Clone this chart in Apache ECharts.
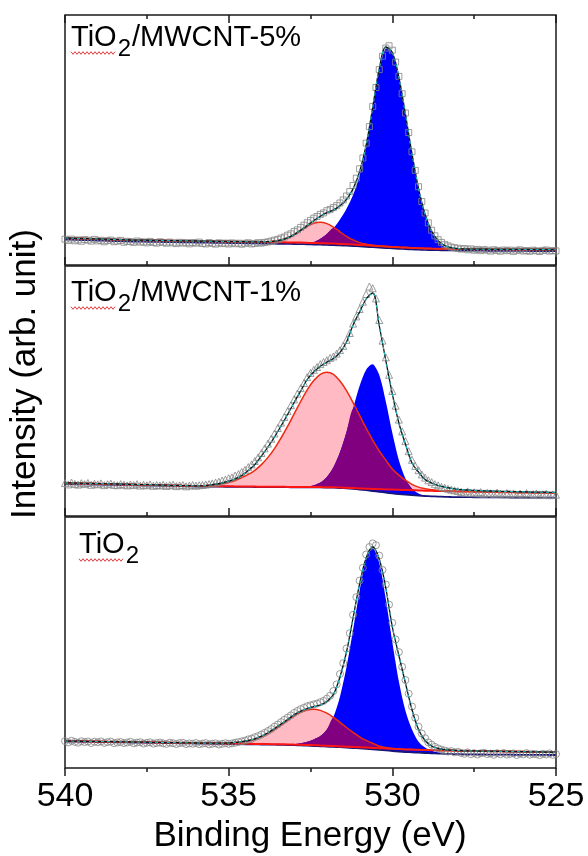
<!DOCTYPE html>
<html>
<head>
<meta charset="utf-8">
<script src="https://cdn.jsdelivr.net/npm/echarts@6/dist/echarts.min.js"></script>
<style>
  html, body { margin: 0; padding: 0; background: #ffffff; }
  #chart { width: 588px; height: 856px; }
</style>
</head>
<body>
<div id="chart"></div>
<script>
// O 1s XPS spectra of TiO2 and TiO2/MWCNT composites with peak deconvolution.
// Intensities are in arbitrary units (each panel has its own scale).

// Binding-energy grids: fitted curves every 0.2 eV, measured scan every 0.1 eV
const fitEnergy = [];
for (let i = 0; i <= 75; i++) fitEnergy.push(+(540 - 0.2 * i).toFixed(1));
const scanEnergy = [];
for (let j = 0; j <= 150; j++) scanEnergy.push(+(540 - 0.1 * j).toFixed(1));

const xTicks = [540, 535, 530, 525];

// ---------- TiO2/MWCNT-5% ----------
const scan5 = [25.8,24.6,25.9,24.2,25.1,23.8,25.4,24.9,23.9,25.6,24.1,24.7,23.2,24.4,24.9,23.3,23.9,24.6,22.8,23.7,
  23.4,22.6,24.0,22.9,23.1,22.2,23.6,22.5,21.9,23.2,22.6,21.8,22.9,22.1,21.4,22.7,21.9,22.3,21.2,22.5,
  21.8,22.9,21.5,21.1,22.4,21.6,20.9,22.2,21.4,21.9,21.0,22.1,21.3,21.8,20.8,21.7,22.2,21.1,21.6,22.3,21.9,
  22.6,23.1,23.9,24.8,25.6,26.9,28.0,29.8,31.2,33.4,35.1,37.6,39.8,42.3,44.6,46.8,48.5,50.6,52.1,54.3,
  55.6,57.4,59.3,62.0,65.1,69.0,73.4,79.5,86.8,96.2,107.0,121.9,138.4,158.6,177.5,195.4,208.8,216.9,219.2,214.8,
  202.9,188.6,171.3,152.0,132.5,113.2,94.6,78.3,63.5,52.0,42.1,34.8,29.2,25.3,22.6,20.4,19.1,17.9,17.2,16.8,
  15.9,16.5,15.2,16.1,14.8,15.6,14.4,15.3,14.9,13.9,15.2,14.6,13.8,15.0,14.3,14.9,13.6,14.7,15.1,14.0,
  14.5,13.7,14.8,14.2,13.5,14.6,15.0,13.9,14.4,14.1];
const fit5 = [27.0,26.8,26.6,26.4,26.2,26.0,25.8,25.6,25.4,25.2,25.0,24.9,24.8,24.7,24.6,24.5,24.4,24.3,24.2,24.1,
  24.0,23.9,23.8,23.7,23.6,23.5,23.4,23.3,23.2,23.1,
  23.2,23.3,23.9,25.0,27.2,30.4,34.7,39.5,44.3,48.8,52.4,54.9,59.2,65.7,76.1,93.4,119.8,157.7,196.0,218.0,
  212.6,187.7,150.9,111.4,76.6,50.7,33.9,24.4,19.5,17.3,16.4,16.0,15.9,
  15.8,15.8,15.7,15.7,15.7,15.6,15.6,15.6,15.5,15.5,15.5,15.5,15.5];
const shirley5 = [25.5,25.3,25.1,24.9,24.7,24.5,24.3,24.1,23.9,23.7,23.5,23.4,23.3,23.2,23.1,23.0,22.9,22.8,22.7,22.6,
  22.5,22.4,22.3,22.2,22.1,22.0,21.9,21.8,21.7,21.6,21.5,21.4,21.3,21.2,21.1,21.0,20.9,20.7,20.5,20.3,
  20.1,19.9,19.6,19.3,19.0,18.6,18.2,17.8,17.4,17.0,16.6,16.2,15.9,15.6,15.3,15.1,14.9,14.8,14.7,14.6,
  14.5,14.4,14.4,14.3,14.3,14.2,14.2,14.2,14.1,14.1,14.1,14.0,14.0,14.0,14.0,14.0];
const linear5 = [27.0,26.8,26.6,26.4,26.2,26.0,25.8,25.6,25.4,25.2,25.0,24.9,24.8,24.7,24.6,24.5,24.4,24.3,24.2,24.1,
  24.0,23.9,23.8,23.7,23.6,23.5,23.4,23.3,23.2,23.1,23.0,22.9,22.8,22.7,22.6,22.5,22.4,22.2,22.0,21.8,
  21.6,21.4,21.1,20.8,20.5,20.1,19.7,19.3,18.9,18.5,18.1,17.7,17.4,17.1,16.8,16.6,16.4,16.3,16.2,16.1,
  16.0,15.9,15.9,15.8,15.8,15.7,15.7,15.7,15.6,15.6,15.6,15.5,15.5,15.5,15.5,15.5];
const ohPeak5 = [0,0,0,0,0,0,0,0,0,0,0,0,0,0,0,0,0,0,0,0,0,0,0,0,0,0,0,0,0,0,
  0.15,0.4,1.1,2.3,4.6,7.9,12.1,16.5,19.8,21,19.8,16.5,12.1,7.9,4.6,2.3,1.1,0.4,0.15,
  0,0,0,0,0,0,0,0,0,0,0,0,0,0,0,0,0,0,0,0,0,0,0,0,0,0,0];
const latticePeak5 = [0,0,0,0,0,0,0,0,0,0,0,0,0,0,0,0,0,0,0,0,0,0,0,0,0,0,0,0,0,0,0,0,0,0,0,0,
  0.2,0.8,2.5,6,11,17,26,37,51,71,99,138,177,199.5,194.5,170,133.5,94.3,59.8,34.1,17.5,8.1,3.3,1.2,0.4,0.1,
  0,0,0,0,0,0,0,0,0,0,0,0,0,0];

// ---------- TiO2/MWCNT-1% ----------
const scan1 = [32.9,31.6,33.4,32.1,31.4,32.8,31.9,33.0,31.2,32.3,31.7,32.6,30.9,31.8,32.4,31.1,30.8,31.9,31.3,30.6,
  31.5,30.9,31.8,30.4,31.2,30.7,31.6,30.2,31.0,30.5,31.3,30.1,30.8,31.4,29.9,30.6,31.0,29.7,30.5,30.9,30.3,
  30.8,31.0,31.5,31.9,32.6,33.4,34.3,35.5,36.4,37.8,38.7,40.5,42.0,44.1,46.2,48.9,51.6,55.0,58.7,63.0,
  67.6,72.4,77.3,82.5,88.0,93.4,99.0,104.9,110.8,116.6,122.4,127.9,133.0,138.9,143.1,146.2,149.0,151.9,154.0,155.8,
  158.1,159.6,162.4,165.9,170.2,176.1,183.0,192.4,199.6,207.0,214.3,222.0,229.5,227.8,217.6,196.0,175.4,158.7,141.2,125.0,
  110.3,96.4,84.6,74.9,64.8,56.2,50.1,45.8,41.6,38.4,35.7,33.9,31.8,30.7,29.1,28.4,27.2,26.3,25.7,24.9,
  24.1,23.3,24.6,22.8,23.7,22.5,23.9,22.1,23.2,22.7,21.9,23.4,22.3,21.6,22.9,21.8,22.6,21.2,22.4,21.5,
  22.8,21.1,21.9,22.5,20.9,21.7,22.2,20.8,21.6,21.3];
const fit1 = [33.2,33.0,32.9,32.7,32.6,32.4,32.3,32.1,32.0,31.8,31.7,31.5,31.4,31.3,31.1,30.9,30.7,30.6,30.4,30.3,30.1,
  30.2,30.8,31.8,33.0,34.8,37.0,40.5,45.5,51.5,60.0,69.0,79.0,90.0,101.5,113.5,125.0,136.5,144.0,149.8,153.8,
  157.5,163.5,174.0,191.0,204.0,217.0,223.0,190.5,155.5,122.0,93.0,72.0,53.0,44.0,36.5,33.0,30.5,28.8,27.7,26.7,
  26.2,25.8,25.5,25.2,25.0,24.8,24.6,24.5,24.3,24.2,24.0,23.9,23.8,23.7,23.6];
const shirley1 = [32.0,31.9,31.7,31.6,31.5,31.4,31.2,31.1,31.0,30.9,30.8,30.6,30.5,30.4,30.3,30.1,30.0,29.9,29.8,29.6,29.5,
  29.4,29.4,29.3,29.3,29.2,29.2,29.1,29.1,29.0,29.0,28.9,28.9,28.8,28.8,28.7,28.7,28.7,28.6,28.6,28.5,
  28.3,28.0,27.6,27.1,26.5,25.8,25.0,24.2,23.4,22.6,
  21.9,21.3,20.8,20.4,20.0,19.7,19.4,19.2,19.0,18.9,
  18.8,18.8,18.7,18.7,18.6,18.6,18.6,18.5,18.5,18.5,18.4,18.4,18.4,18.4,18.4];
const linear1 = [33.0,32.8,32.7,32.5,32.4,32.2,32.1,31.9,31.8,31.6,31.5,31.3,31.2,31.1,30.9,30.8,30.6,30.5,30.3,30.2,30.0,
  29.9,29.9,29.8,29.7,29.7,29.6,29.5,29.5,29.4,29.3,29.3,29.2,29.2,29.1,29.1,29.0,29.0,28.9,28.9,28.8,28.8,
  28.5,28.2,27.9,27.6,27.3,27.0,26.8,26.6,26.4,26.2,26.0,25.8,25.5,25.3,
  25.2,25.0,24.9,24.8,24.6,24.5,24.4,24.3,24.1,24.0,23.9,23.8,23.7,23.6,23.5,23.4,23.3,23.2,23.1,23.0];
const ohPeak1 = [0,0,0,0,0,0,0,0,0,0,0,0,0,0,0,0,0,0,0,0,
  0.2,0.4,0.8,1.5,2.5,3.9,5.9,8.9,12.1,16.3,22.1,29.3,38.2,48.8,60.5,73.0,85.5,97.1,106.5,112.8,
  115,112.8,106.5,97.1,85.5,73.0,60.5,48.8,38.2,29.3,20.6,14.7,9.8,5.9,3.4,2.0,1.0,0.5,0.2,
  0,0,0,0,0,0,0,0,0,0,0,0,0,0,0,0,0];
const latticePeak1 = [0,0,0,0,0,0,0,0,0,0,0,0,0,0,0,0,0,0,0,0,0,0,0,0,0,0,0,0,0,0,0,0,0,0,0,
  0.1,0.3,0.8,2.1,4.9,10.6,20.5,35.8,56.4,80.4,103.5,120.4,126.7,116.7,91.1,60.3,33.9,16.1,6.5,2.2,0.6,0.2,
  0,0,0,0,0,0,0,0,0,0,0,0,0,0,0,0,0,0,0];

// ---------- TiO2 ----------
const scan0 = [26.9,25.6,27.2,26.1,25.3,26.8,25.9,26.5,25.0,26.3,25.7,26.6,25.1,25.9,26.4,24.8,25.6,26.0,24.9,25.5,
  26.2,24.7,25.4,25.8,24.5,25.2,25.7,24.4,25.0,25.5,24.6,24.1,25.3,24.8,24.0,24.9,25.2,23.9,24.6,24.2,
  25.0,23.8,24.4,24.9,23.6,24.3,24.7,23.5,24.2,24.8,24.1,
  24.6,25.2,25.9,26.6,27.4,28.6,29.3,30.8,31.9,33.5,35.1,37.0,39.0,41.4,43.5,45.9,48.2,50.4,52.6,55.1,
  57.0,58.9,60.3,61.8,62.7,63.6,64.4,65.8,67.1,69.4,72.3,77.0,83.6,94.0,104.8,119.5,134.8,153.2,170.9,187.4,
  200.2,213.5,221.0,224.6,222.8,212.4,198.1,183.5,163.4,145.2,128.6,115.9,101.2,88.0,74.3,61.5,50.2,41.3,34.5,29.8,
  25.6,23.4,21.2,19.6,18.3,17.5,16.4,16.9,15.6,16.2,
  15.1,14.2,15.6,13.8,14.9,13.5,14.7,15.3,13.9,14.4,13.2,14.8,13.7,15.0,13.4,14.1,14.6,13.0,14.3,13.6,
  14.9,13.3,14.0,13.8,12.9,14.2,13.5,14.6,13.1,13.9];
const fit0 = [27.0,26.9,26.8,26.7,26.6,26.5,26.4,26.3,26.2,26.1,26.0,25.9,25.8,25.7,25.6,25.5,25.4,25.3,25.2,25.1,
  25.0,24.9,24.8,
  24.8,24.9,25.0,25.5,26.3,27.5,29.2,31.8,35.2,39.5,44.0,48.5,53.2,56.8,59.5,61.3,63.0,66.5,73.5,91.0,
  116.0,150.0,184.0,210.0,221.0,209.0,180.0,141.0,112.5,85.0,58.5,38.5,27.5,22.0,19.5,18.3,17.8,
  17.4,17.2,17.1,17.0,16.9,16.8,16.7,16.6,16.5,16.4,16.3,16.2,16.1,16.0,15.9,15.8];
const shirley0 = [26.5,26.4,26.3,26.2,26.1,26.0,25.9,25.8,25.7,25.6,25.5,25.4,25.3,25.2,25.1,25.0,24.9,24.8,24.7,24.6,24.5,
  24.4,24.3,24.2,24.1,24.0,23.9,23.8,23.7,23.6,23.5,23.4,23.3,23.2,23.0,22.8,
  22.6,22.3,22.0,21.7,21.4,21.1,20.8,20.4,20.0,19.6,19.2,18.7,18.2,17.6,17.0,
  16.5,16.0,15.6,15.3,15.0,14.7,14.4,14.2,14.0,13.8,
  13.7,13.6,13.5,13.5,13.4,13.4,13.3,13.3,13.2,13.2,13.2,13.1,13.1,13.0,13.0];
const linear0 = [27.0,26.9,26.8,26.7,26.6,26.5,26.4,26.3,26.2,26.1,26.0,25.9,25.8,25.7,25.6,25.5,25.4,25.3,25.2,25.1,25.0,
  24.9,24.8,24.7,24.6,24.5,24.4,24.3,24.2,24.1,24.0,23.9,23.8,23.7,23.6,23.4,
  23.2,23.0,22.8,22.5,22.2,21.9,21.6,21.3,21.0,20.7,20.4,20.1,19.8,19.5,19.2,
  18.9,18.6,18.4,18.2,18.0,17.8,17.6,17.5,17.4,17.3,
  17.2,17.1,17.0,16.9,16.8,16.7,16.6,16.5,16.4,16.3,16.2,16.1,16.0,15.9,15.8];
const ohPeak0 = [0,0,0,0,0,0,0,0,0,0,0,0,0,0,0,0,0,0,0,0,0,0,0,
  0.1,0.25,0.5,1.0,1.7,2.9,4.7,7.2,10.5,14.6,19.2,24.1,28.7,32.6,35.1,36,35.1,32.6,28.7,24.1,
  19.2,14.6,10.5,7.2,4.7,2.0,1.0,0.4,0.1,
  0,0,0,0,0,0,0,0,0,0,0,0,0,0,0,0,0,0,0,0,0,0,0,0];
const latticePeak0 = [0,0,0,0,0,0,0,0,0,0,0,0,0,0,0,0,0,0,0,0,0,0,0,0,0,0,0,0,0,0,0,0,0,
  0.1,0.4,1.0,2.2,4.0,6.6,10.2,17.1,29.8,50.5,80.5,118.1,157.5,188.8,201,186.9,151.6,108.8,70.1,41.3,
  23.0,11,5.5,2.6,1.2,0.5,0.2,
  0,0,0,0,0,0,0,0,0,0,0,0,0,0,0,0];

// Panel labels: [before subscript, subscript, after subscript]
const sampleLabels = [
  ['TiO', '2', '/MWCNT-5%'],
  ['TiO', '2', '/MWCNT-1%'],
  ['TiO', '2', '']
];

const panels = [
  { label: sampleLabels[0], symbol: 'rect', size: 6, scan: scan5, fit: fit5, shirley: shirley5, linear: linear5,
    oh: ohPeak5, lattice: latticePeak5, top: 15, height: 250, labelX: 71, labelBase: 48 },
  { label: sampleLabels[1], symbol: 'triangle', size: 7, scan: scan1, fit: fit1, shirley: shirley1, linear: linear1,
    oh: ohPeak1, lattice: latticePeak1, top: 266, height: 250, labelX: 71, labelBase: 303 },
  { label: sampleLabels[2], symbol: 'circle', size: 7, scan: scan0, fit: fit0, shirley: shirley0, linear: linear0,
    oh: ohPeak0, lattice: latticePeak0, top: 517, height: 251, labelX: 79, labelBase: 555 }
];

const FONT = '"Liberation Sans", Arial, sans-serif';
const INK = '#1a1a1a';
const PLOT_LEFT = 65, PLOT_WIDTH = 491;
const LABEL_SIZE = 29, SUB_SIZE = 24;

const pair = (xs, ys) => ys.map((y, i) => [xs[i], y]);
const smooth = 0.35;

// Filled band between two curves sampled on the fit grid, drawn through the axis scales.
function band(k, lower, upper, color, z) {
  let first = -1, lastIdx = -1;
  upper.forEach((u, i) => { if (u - lower[i] > 0.05) { if (first < 0) first = i; lastIdx = i; } });
  const i0 = Math.max(0, first - 1), i1 = Math.min(upper.length - 1, lastIdx + 1);
  return {
    type: 'custom', xAxisIndex: k, yAxisIndex: k, z, silent: true,
    data: [[fitEnergy[i0], lower[i0]]],
    renderItem: (params, api) => {
      const pts = [];
      for (let i = i0; i <= i1; i++) pts.push(api.coord([fitEnergy[i], upper[i]]));
      for (let i = i1; i >= i0; i--) pts.push(api.coord([fitEnergy[i], lower[i]]));
      return { type: 'polygon', shape: { points: pts, smooth: 0.3 }, style: { fill: color, stroke: null } };
    }
  };
}

const grids = [], xAxes = [], yAxes = [], series = [], graphics = [];
const measure = document.createElement('canvas').getContext('2d');

panels.forEach((p, k) => {
  const last = k === panels.length - 1;
  grids.push({
    left: PLOT_LEFT, width: PLOT_WIDTH, top: p.top, height: p.height,
    show: true, borderColor: INK, borderWidth: 1.5, backgroundColor: 'transparent'
  });
  xAxes.push({
    gridIndex: k, type: 'value', min: 525, max: 540, interval: 5, inverse: true, position: 'bottom',
    axisLine: { show: false }, splitLine: { show: false },
    axisTick: { show: true, inside: !last, length: 8, lineStyle: { color: INK, width: 1.5 } },
    minorTick: { show: true, splitNumber: 2, length: 4, lineStyle: { color: INK, width: 1.5 } },
    axisLabel: last ? {
      show: true, fontSize: 34, fontFamily: FONT, color: '#000', margin: 12,
      formatter: v => (xTicks.indexOf(v) >= 0 ? String(v) : '')
    } : { show: false }
  });
  yAxes.push({ gridIndex: k, type: 'value', min: 0, max: p.height, show: false });

  const ax = { xAxisIndex: k, yAxisIndex: k };
  const ohTop = p.linear.map((v, i) => +(v + p.oh[i]).toFixed(2));
  const latTop = p.shirley.map((v, i) => +(v + p.lattice[i]).toFixed(2));
  const sharedLow = p.linear.map((v, i) => Math.max(v, p.shirley[i]));
  const sharedTop = sharedLow.map((b, i) => Math.max(b, Math.min(ohTop[i], latTop[i])));

  // component fills: pink (O–H / C–O), blue (Ti–O lattice), purple where they overlap
  series.push(band(k, p.linear, ohTop, '#ffbac3', 2));
  series.push(band(k, p.shirley, latTop, '#0000ff', 3));
  series.push(band(k, sharedLow, sharedTop, '#800080', 4));

  // backgrounds
  series.push(Object.assign({}, ax, {
    type: 'line', data: pair(fitEnergy, p.shirley), symbol: 'none', smooth, silent: true,
    lineStyle: { color: '#15157a', width: 1.8 }, z: 5
  }));
  series.push(Object.assign({}, ax, {
    type: 'line', data: pair(fitEnergy, p.linear), symbol: 'none', smooth, silent: true,
    lineStyle: { color: '#ff1414', width: 2 }, z: 6
  }));
  // outline of the pink component
  series.push(Object.assign({}, ax, {
    type: 'line', data: pair(fitEnergy, ohTop), symbol: 'none', smooth, silent: true,
    lineStyle: { color: '#ee2a10', width: 1.5 }, z: 7
  }));
  // measured spectrum
  series.push(Object.assign({}, ax, {
    type: 'scatter', data: pair(scanEnergy, p.scan), symbol: p.symbol, symbolSize: p.size, silent: true,
    itemStyle: { color: 'rgba(0,0,0,0)', borderColor: '#858585', borderWidth: 1 }, z: 8
  }));
  // cumulative fit
  series.push(Object.assign({}, ax, {
    type: 'line', data: pair(fitEnergy, p.fit), symbol: 'none', smooth, silent: true,
    lineStyle: { color: '#111111', width: 1.3 }, z: 9
  }));
  series.push(Object.assign({}, ax, {
    type: 'line', data: pair(fitEnergy, p.fit), symbol: 'none', smooth, silent: true,
    lineStyle: { color: '#22c6d0', width: 1, type: [3, 3] }, z: 10
  }));

  // sample label with subscript
  measure.font = LABEL_SIZE + 'px ' + FONT;
  const w1 = measure.measureText(p.label[0]).width;
  measure.font = SUB_SIZE + 'px ' + FONT;
  const w2 = measure.measureText(p.label[1]).width;
  const base = p.labelBase;
  const textStyle = (text, size) => ({
    text, fontSize: size, fontFamily: FONT, fill: '#000',
    textAlign: 'left', textVerticalAlign: 'middle', align: 'left', verticalAlign: 'middle'
  });
  graphics.push({ type: 'text', x: p.labelX, y: base - 0.35 * LABEL_SIZE, z: 20, style: textStyle(p.label[0], LABEL_SIZE) });
  graphics.push({ type: 'text', x: p.labelX + w1 + 1, y: base + 10 - 0.35 * SUB_SIZE, z: 20, style: textStyle(p.label[1], SUB_SIZE) });
  if (p.label[2]) {
    graphics.push({ type: 'text', x: p.labelX + w1 + w2 + 2, y: base - 0.35 * LABEL_SIZE, z: 20, style: textStyle(p.label[2], LABEL_SIZE) });
  }
  // proofing squiggle under the chemical formula
  const pts = [];
  for (let x = 0, n = 0; x <= w1; x += 2, n++) pts.push([p.labelX + x, base + 5 + (n % 2 ? 1.3 : -1.3)]);
  graphics.push({ type: 'polyline', z: 20, shape: { points: pts }, style: { stroke: '#e23a3a', lineWidth: 1, fill: null } });
});

// ticks along the top edge of the upper panel
xAxes.push({
  gridIndex: 0, type: 'value', min: 525, max: 540, interval: 5, inverse: true, position: 'top',
  axisLine: { show: false }, splitLine: { show: false }, axisLabel: { show: false },
  axisTick: { show: true, inside: true, length: 8, lineStyle: { color: INK, width: 1.5 } },
  minorTick: { show: true, splitNumber: 2, length: 4, lineStyle: { color: INK, width: 1.5 } }
});

// axis titles
graphics.push({
  type: 'text', x: 310, y: 836, z: 20,
  style: { text: 'Binding Energy (eV)', fontSize: 35, fontFamily: FONT, fill: '#000',
           textAlign: 'center', textVerticalAlign: 'middle', align: 'center', verticalAlign: 'middle' }
});
graphics.push({
  type: 'text', x: 25, y: 374, rotation: Math.PI / 2, z: 20,
  style: { text: 'Intensity (arb. unit)', fontSize: 35, fontFamily: FONT, fill: '#000',
           textAlign: 'center', textVerticalAlign: 'middle', align: 'center', verticalAlign: 'middle' }
});

const chart = echarts.init(document.getElementById('chart'), null, { renderer: 'canvas' });
chart.setOption({
  animation: false,
  backgroundColor: '#ffffff',
  grid: grids,
  xAxis: xAxes,
  yAxis: yAxes,
  series: series,
  graphic: graphics
});
</script>
</body>
</html>
